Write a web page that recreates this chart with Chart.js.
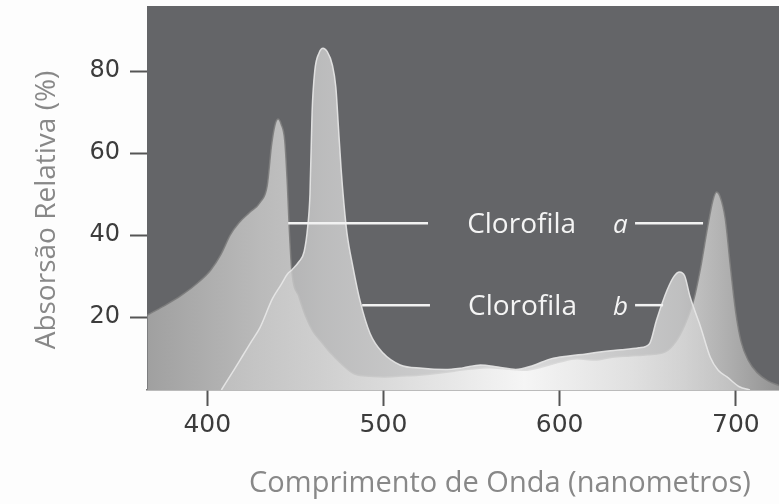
<!DOCTYPE html>
<html>
<head>
<meta charset="utf-8">
<script src="https://cdn.jsdelivr.net/npm/chart.js@4.4.1/dist/chart.umd.min.js"></script>
<style>
  html, body { margin: 0; padding: 0; background: #fdfdfd; }
  #wrap { width: 779px; height: 504px; position: relative; }
</style>
</head>
<body>
<div id="wrap"><canvas id="spectro"></canvas></div>
<script>
// Clorofila a - comprimento de onda (nm) / absorção relativa (%)
const nmA  = [366, 375, 385, 395, 402, 408, 413, 418, 424, 430, 434, 436.5, 438.5, 440.2, 442, 444, 445.5, 446.5, 448,
              452, 456, 460, 465, 470, 476, 483, 490, 500, 510, 520, 530, 540, 550, 560, 570, 580, 590, 600, 610, 620,
              630, 640, 650, 660, 666, 671, 676, 680, 684, 687, 689, 691, 694, 697, 700, 703, 707, 712, 718, 725];
const absA = [20.5, 22.6, 25.2, 28.5, 31.5, 35.5, 40, 43, 45.5, 48, 52, 62, 67, 68.3, 67, 63, 52, 42, 31.2,
              25, 20, 16.5, 13.8, 11.2, 8.6, 6.2, 5.6, 5.4, 5.6, 5.8, 6.2, 6.8, 7.3, 7.6, 7.3, 7.0, 7.8, 9.0, 9.8, 9.5,
              10.2, 10.5, 10.8, 11.5, 14, 18, 24, 32, 42, 48.5, 50.5, 49.5, 44, 32, 21, 14, 9.5, 6.5, 4.5, 3.2];

// Clorofila b
const nmB  = [408, 415, 420, 425, 430, 437, 442, 445.5, 448, 452, 455, 457, 458.3, 459.5, 461, 463.5, 465.7, 468,
              471, 473, 474.5, 476, 477.5, 479.3, 482.7, 486.7, 492.4, 499.8, 509.5, 522, 535, 545, 555, 565, 575, 585,
              595, 605, 615, 625, 635, 645, 651, 655, 661, 665, 668, 671, 674, 680, 685.5, 690, 695, 702, 708];
const absB = [2.2, 7, 10.5, 14, 17.5, 24.5, 28, 30.5, 31.5, 33.5, 36, 42, 50, 70, 80, 84.5, 85.6, 84.8,
              81.5, 76, 66, 56, 48, 40.5, 32.2, 24, 16, 11.2, 8.3, 7.5, 7.2, 7.6, 8.3, 7.8, 7.2, 8.2,
              9.8, 10.5, 11, 11.6, 12, 12.5, 13.5, 19.3, 26.6, 30, 31, 30, 25, 17.6, 10.2, 7, 5.4, 3, 2.2];

const xTicks = [400, 500, 600, 700];
const yTicks = [20, 40, 60, 80];

const xTitle = 'Comprimento de Onda (nanometros)';
const yTitle = 'Absorsão Relativa (%)';

// linhas de legenda: [x inicial, x final, y]
const pointerA = [[445.9, 525.3, 42.9], [642.8, 681.4, 42.9]];
const pointerB = [[487.9, 526.4, 22.9], [642.8, 658.7, 22.9]];
// textos: [texto, x, y, itálico]
const labels = [
    ['Clorofila', 547.5, 42.9, false], ['a', 630.3, 42.9, true],
    ['Clorofila', 548.0, 22.9, false], ['b', 630.3, 22.9, true]
];

function toPoints(xs, ys) {
    return xs.map((x, i) => ({ x: x, y: ys[i] }));
}

// horizontal grey gradient following the wavelength axis
function makeGradient(stops) {
    return function (context) {
        const chart = context.chart;
        const area = chart.chartArea;
        if (!area) return null;
        const sx = chart.scales.x;
        const g = chart.ctx.createLinearGradient(area.left, 0, area.right, 0);
        stops.forEach(s => {
            let t = (sx.getPixelForValue(s[0]) - area.left) / (area.right - area.left);
            g.addColorStop(Math.min(1, Math.max(0, t)), s[1]);
        });
        return g;
    };
}

const plotBg = {
    id: 'plotBg',
    beforeDraw(chart) {
        const { ctx, chartArea: a } = chart;
        ctx.save();
        ctx.fillStyle = '#646568';
        ctx.fillRect(a.left, a.top, a.right - a.left, a.bottom - a.top);
        ctx.restore();
    }
};

const textLabels = {
    id: 'textLabels',
    afterDatasetsDraw(chart) {
        const ctx = chart.ctx;
        const sx = chart.scales.x, sy = chart.scales.y;
        ctx.save();
        ctx.fillStyle = '#f4f4f4';
        ctx.textBaseline = 'alphabetic';
        labels.forEach(l => {
            ctx.font = l[3] ? 'italic 26px "Open Sans"' : '28px "Open Sans"';
            ctx.fillText(l[0], sx.getPixelForValue(l[1]), sy.getPixelForValue(l[2]) + 10);
        });
        ctx.restore();
    }
};

const axisTitles = {
    id: 'axisTitles',
    afterDraw(chart) {
        const ctx = chart.ctx;
        ctx.save();
        ctx.fillStyle = '#888';
        ctx.textAlign = 'center';
        ctx.textBaseline = 'middle';
        ctx.font = '29px "Open Sans"';
        ctx.fillText(xTitle, 500, 484);
        ctx.translate(47, 210);
        ctx.rotate(-Math.PI / 2);
        ctx.font = '28px "Open Sans"';
        ctx.fillText(yTitle, 0, 0);
        ctx.restore();
    }
};

const pointerSets = pointerA.concat(pointerB).map(p => ({
    data: [{ x: p[0], y: p[2] }, { x: p[1], y: p[2] }],
    borderColor: '#f2f2f2',
    borderWidth: 2.5,
    pointRadius: 0,
    fill: false,
    order: 0
}));

const ctx = document.getElementById('spectro').getContext('2d');
const chart = new Chart(ctx, {
    type: 'line',
    data: {
        datasets: [
            {
                label: 'Clorofila b',
                data: toPoints(nmB, absB),
                borderColor: 'rgba(232,232,232,0.9)',
                borderWidth: 1.5,
                backgroundColor: makeGradient([
                    [408, 'rgba(196,196,196,0.7)'], [466, 'rgba(210,210,210,0.8)'],
                    [580, 'rgba(246,246,246,0.8)'], [668, 'rgba(214,214,214,0.8)'], [708, 'rgba(196,196,196,0.7)']
                ]),
                fill: 'start',
                pointRadius: 0,
                cubicInterpolationMode: 'monotone',
                order: 1
            },
            {
                label: 'Clorofila a',
                data: toPoints(nmA, absA),
                borderColor: 'rgba(125,125,125,0.9)',
                borderWidth: 1.5,
                backgroundColor: makeGradient([
                    [366, '#a0a0a0'], [430, '#bababa'], [500, '#d0d0d0'], [580, '#f2f2f2'],
                    [640, '#e0e0e0'], [690, '#b4b4b4'], [725, '#939393']
                ]),
                fill: 'start',
                pointRadius: 0,
                cubicInterpolationMode: 'monotone',
                order: 2
            }
        ].concat(pointerSets)
    },
    options: {
        responsive: true,
        maintainAspectRatio: false,
        animation: false,
        events: [],
        layout: { padding: { top: 6, right: 0, left: 0, bottom: 0 } },
        plugins: { legend: { display: false }, tooltip: { enabled: false } },
        scales: {
            x: {
                type: 'linear',
                min: 365.8,
                max: 724.5,
                afterFit: s => { s.height = 114; s.paddingLeft = 0; s.paddingRight = 0; },
                afterBuildTicks: s => { s.ticks = xTicks.map(v => ({ value: v })); },
                grid: { drawOnChartArea: false, tickLength: 16, tickWidth: 2, tickColor: '#555' },
                border: { color: '#7a7a7a', width: 1.5 },
                ticks: { font: { family: 'DejaVu Sans', size: 25 }, color: '#3c3c3c', padding: 4, maxRotation: 0 }
            },
            y: {
                min: 2.2,
                max: 95.9,
                afterFit: s => { s.width = 147; s.paddingTop = 0; s.paddingBottom = 0; },
                afterBuildTicks: s => { s.ticks = yTicks.map(v => ({ value: v })); },
                grid: { drawOnChartArea: false, tickLength: 17, tickWidth: 2, tickColor: '#555' },
                border: { display: false },
                ticks: { font: { family: 'DejaVu Sans', size: 24 }, color: '#3c3c3c', padding: 10 }
            }
        }
    },
    plugins: [plotBg, textLabels, axisTitles]
});
</script>
</body>
</html>
